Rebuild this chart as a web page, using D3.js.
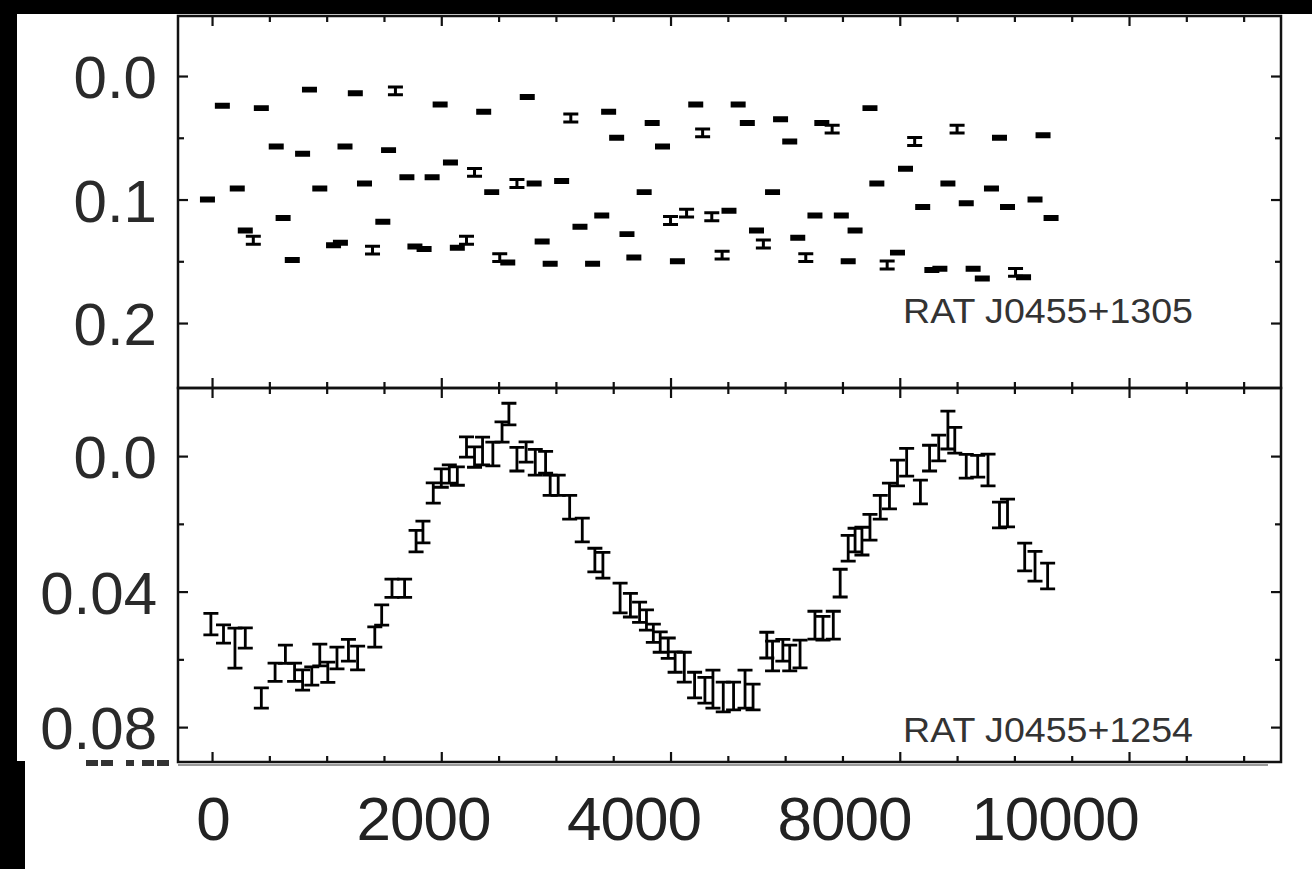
<!DOCTYPE html>
<html lang="en">
<head>
  <meta charset="UTF-8" />
  <title>RAT J0455 light curves</title>
  <style>
    body {
      margin: 0;
      background-color: #000;
    }

    svg {
      display: block;
    }

    .tick-label text {
      font-family: "Liberation Sans", Arial, sans-serif;
      fill: #2a2a2a;
    }

    .ticks line {
      stroke: #111;
      stroke-width: 2.2;
    }

    .frame {
      fill: none;
      stroke: #111;
      stroke-width: 2.5;
    }

    .bar {
      stroke: #000;
      fill: none;
    }

    .star-name {
      font-family: "Liberation Sans", Arial, sans-serif;
      font-size: 35px;
      fill: #333;
    }
  </style>
</head>

<body>
  <svg width="1312" height="869"></svg>

  <script src="https://d3js.org/d3.v7.min.js"></script>
  <script>
    // upper panel: RAT J0455+1305 (time in s, differential mag, error)
    const timeTop = [-40, 90, 220, 290, 360, 430, 560, 620, 700, 790, 850, 940, 1060, 1120, 1160, 1250,
      1330, 1400, 1490, 1540, 1600, 1700, 1770, 1850, 1920, 1990, 2080, 2140, 2220, 2290, 2370, 2440,
      2510, 2580, 2660, 2750, 2810, 2880, 2950, 3050, 3130, 3210, 3320, 3400, 3460, 3530, 3620, 3680,
      3770, 3840, 3930, 4000, 4060, 4140, 4220, 4280, 4360, 4450, 4510, 4590, 4670, 4750, 4810, 4890,
      4960, 5040, 5110, 5180, 5260, 5320, 5410, 5490, 5550, 5610, 5740, 5800, 5890, 5980, 6050, 6130,
      6200, 6280, 6350, 6420, 6500, 6580, 6640, 6720, 6800, 6870, 6940, 7010, 7080, 7180, 7250, 7320];
    const magTop = [0.100, 0.024, 0.091, 0.125, 0.133, 0.026, 0.057, 0.115, 0.149, 0.063, 0.011, 0.091, 0.137, 0.135, 0.057, 0.014,
      0.087, 0.141, 0.118, 0.060, 0.012, 0.082, 0.138, 0.140, 0.082, 0.023, 0.070, 0.139, 0.133, 0.078, 0.029, 0.094,
      0.147, 0.151, 0.087, 0.017, 0.087, 0.134, 0.152, 0.085, 0.034, 0.122, 0.152, 0.113, 0.029, 0.050, 0.128, 0.147,
      0.094, 0.038, 0.057, 0.117, 0.150, 0.111, 0.023, 0.046, 0.114, 0.145, 0.109, 0.023, 0.038, 0.125, 0.136, 0.094,
      0.035, 0.053, 0.131, 0.147, 0.113, 0.038, 0.043, 0.113, 0.150, 0.125, 0.026, 0.087, 0.153, 0.143, 0.075, 0.053,
      0.106, 0.157, 0.156, 0.087, 0.043, 0.103, 0.156, 0.164, 0.091, 0.050, 0.106, 0.159, 0.163, 0.100, 0.048, 0.115];
    const errTop = [0.0012, 0.0012, 0.0012, 0.0012, 0.0032, 0.0012, 0.0012, 0.0012, 0.0012, 0.0012, 0.0012, 0.0012, 0.0012, 0.0012, 0.0012, 0.0012,
      0.0012, 0.0032, 0.0012, 0.0012, 0.0032, 0.0012, 0.0012, 0.0012, 0.0012, 0.0012, 0.0012, 0.0012, 0.0032, 0.0032, 0.0012, 0.0012,
      0.0032, 0.0012, 0.0032, 0.0012, 0.0012, 0.0012, 0.0012, 0.0012, 0.0032, 0.0012, 0.0012, 0.0012, 0.0012, 0.0012, 0.0012, 0.0012,
      0.0012, 0.0012, 0.0012, 0.0032, 0.0012, 0.0032, 0.0012, 0.0032, 0.0032, 0.0032, 0.0012, 0.0012, 0.0012, 0.0012, 0.0032, 0.0012,
      0.0012, 0.0012, 0.0012, 0.0032, 0.0012, 0.0012, 0.0032, 0.0012, 0.0012, 0.0012, 0.0012, 0.0012, 0.0032, 0.0012, 0.0012, 0.0032,
      0.0012, 0.0012, 0.0012, 0.0012, 0.0032, 0.0012, 0.0012, 0.0012, 0.0012, 0.0012, 0.0012, 0.0032, 0.0012, 0.0012, 0.0012, 0.0012];

    // lower panel: RAT J0455+1254
    const timeBot = [-10, 100, 200, 290, 430, 550, 640, 720, 790, 870, 940, 1010, 1090, 1190, 1270, 1420,
      1480, 1570, 1680, 1780, 1840, 1930, 2000, 2070, 2140, 2220, 2290, 2360, 2450, 2530, 2590, 2660,
      2740, 2820, 2910, 2950, 3020, 3120, 3230, 3340, 3410, 3560, 3650, 3730, 3790, 3850, 3910, 3980,
      4040, 4120, 4210, 4300, 4370, 4460, 4550, 4650, 4720, 4840, 4890, 4980, 5040, 5130, 5260, 5330,
      5420, 5480, 5550, 5610, 5670, 5740, 5830, 5910, 5980, 6060, 6180, 6260, 6340, 6420, 6480, 6580,
      6680, 6770, 6870, 6940, 7090, 7180, 7290];
    const magBot = [0.0496, 0.0525, 0.0567, 0.0537, 0.0714, 0.0638, 0.0585, 0.0638, 0.0661, 0.0649, 0.0587, 0.0638, 0.0596, 0.0573, 0.0596, 0.0534,
      0.0469, 0.0390, 0.0390, 0.0251, 0.0224, 0.0109, 0.0065, 0.0053, 0.0059, -0.0027, 0.0003, -0.0015, -0.0006, -0.0071, -0.0124, 0.0009,
      -0.0012, 0.0018, 0.0018, 0.0086, 0.0086, 0.0151, 0.0218, 0.0307, 0.0322, 0.0419, 0.0440, 0.0461, 0.0484, 0.0523, 0.0549, 0.0567,
      0.0608, 0.0623, 0.0676, 0.0691, 0.0688, 0.0711, 0.0708, 0.0688, 0.0711, 0.0558, 0.0590, 0.0573, 0.0596, 0.0584, 0.0499, 0.0508,
      0.0499, 0.0375, 0.0272, 0.0248, 0.0251, 0.0210, 0.0151, 0.0118, 0.0050, 0.0018, 0.0106, 0.0006, -0.0024, -0.0077, -0.0047, 0.0030,
      0.0030, 0.0041, 0.0174, 0.0168, 0.0298, 0.0325, 0.0354];
    const errBot = [0.0032, 0.0027, 0.0059, 0.0030, 0.0030, 0.0027, 0.0027, 0.0027, 0.0030, 0.0027, 0.0032, 0.0030, 0.0032, 0.0032, 0.0035, 0.0030,
      0.0030, 0.0027, 0.0027, 0.0032, 0.0032, 0.0030, 0.0027, 0.0027, 0.0027, 0.0030, 0.0030, 0.0041, 0.0035, 0.0030, 0.0032, 0.0035,
      0.0030, 0.0038, 0.0032, 0.0030, 0.0030, 0.0035, 0.0035, 0.0035, 0.0038, 0.0044, 0.0035, 0.0030, 0.0030, 0.0027, 0.0030, 0.0030,
      0.0030, 0.0044, 0.0038, 0.0038, 0.0056, 0.0044, 0.0041, 0.0056, 0.0038, 0.0038, 0.0044, 0.0032, 0.0038, 0.0041, 0.0041, 0.0035,
      0.0041, 0.0041, 0.0038, 0.0035, 0.0041, 0.0038, 0.0035, 0.0038, 0.0038, 0.0041, 0.0035, 0.0038, 0.0038, 0.0056, 0.0038, 0.0035,
      0.0032, 0.0047, 0.0038, 0.0041, 0.0041, 0.0044, 0.0038];

    const topTicks = [0, 0.1, 0.2];
    const topMinor = [0.05, 0.15];
    const botTicks = [0, 0.04, 0.08];
    const botMinor = [0.02, 0.06];
    const xMajor = [0, 2000, 4000, 6000, 8000];
    const xMinor = [500, 1000, 1500, 2500, 3000, 3500, 4500, 5000, 5500, 6500, 7000, 7500, 8500, 9000];
    const xLabels = ["0", "2000", "4000", "8000", "10000"];
    const names = ["RAT J0455+1305", "RAT J0455+1254"];

    const svg = d3.select("svg");

    // black page with the white cut-outs of the scan
    svg.append("rect").attr("width", 1312).attr("height", 869).attr("fill", "#000");
    svg.append("rect").attr("x", 17).attr("y", 14).attr("width", 1295).attr("height", 747).attr("fill", "#fff");
    svg.append("rect").attr("x", 25).attr("y", 760).attr("width", 1287).attr("height", 109).attr("fill", "#fff");

    const left = 178, right = 1281;
    const panels = [
      { top: 16, bottom: 388, y: d3.scaleLinear().domain([-0.0486, 0.2526]).range([16, 388]),
        major: topTicks, minor: topMinor, fmt: d3.format(".1f"), sw: 3,
        t: timeTop, m: magTop, e: errTop, name: names[0] },
      { top: 388, bottom: 762, y: d3.scaleLinear().domain([-0.0201, 0.0903]).range([388, 762]),
        major: botTicks, minor: botMinor, fmt: d => d === 0 ? "0.0" : d3.format(".2f")(d), sw: 2.8,
        t: timeBot, m: magBot, e: errBot, name: names[1] }
    ];

    const x = d3.scaleLinear().domain([-297, 9326]).range([left, right]);

    panels.forEach(p => {
      const g = svg.append("g");

      // x ticks on both edges, pointing inwards
      [[xMajor, 10], [xMinor, 6]].forEach(([vals, len]) => {
        g.append("g").attr("class", "ticks")
          .attr("transform", `translate(0,${p.top})`)
          .call(d3.axisBottom(x).tickValues(vals).tickSize(len).tickFormat(""));
        g.append("g").attr("class", "ticks")
          .attr("transform", `translate(0,${p.bottom})`)
          .call(d3.axisTop(x).tickValues(vals).tickSize(len).tickFormat(""));
      });

      // y ticks on both edges
      [[p.major, 10], [p.minor, 6]].forEach(([vals, len]) => {
        g.append("g").attr("class", "ticks")
          .attr("transform", `translate(${left},0)`)
          .call(d3.axisRight(p.y).tickValues(vals).tickSize(len).tickFormat(""));
        g.append("g").attr("class", "ticks")
          .attr("transform", `translate(${right},0)`)
          .call(d3.axisLeft(p.y).tickValues(vals).tickSize(len).tickFormat(""));
      });
      g.selectAll(".ticks path.domain").remove();

      // tick labels
      const lab = g.append("g").attr("class", "tick-label")
        .attr("transform", `translate(${left},0)`)
        .call(d3.axisLeft(p.y).tickValues(p.major).tickSize(0).tickPadding(21).tickFormat(p.fmt));
      lab.select("path.domain").remove();
      lab.selectAll("text").attr("font-size", 60).attr("dy", "0.36em");

      // error bars
      const pts = p.t.map((t, i) => ({ t: t, m: p.m[i], e: p.e[i] }));
      const cap = 7.5;
      g.append("g").selectAll("path").data(pts).enter().append("path")
        .attr("class", "bar")
        .attr("stroke-width", p.sw)
        .attr("d", d => {
          const cx = x(d.t), y1 = p.y(d.m - d.e), y2 = p.y(d.m + d.e);
          return `M${cx - cap},${y1}H${cx + cap}M${cx},${y1}V${y2}M${cx - cap},${y2}H${cx + cap}`;
        });

      g.append("text").attr("class", "star-name")
        .attr("x", 903).attr("y", p.bottom - (p.top === 16 ? 65 : 20))
        .attr("textLength", 290).attr("lengthAdjust", "spacingAndGlyphs")
        .text(p.name);

      g.append("rect").attr("class", "frame")
        .attr("x", left).attr("y", p.top)
        .attr("width", right - left).attr("height", p.bottom - p.top);
    });

    // soft shadow under the lower frame
    svg.append("line").attr("x1", left).attr("x2", 1268).attr("y1", 765).attr("y2", 765)
      .attr("stroke", "#9a9a9a").attr("stroke-width", 2);

    // scraps of a cut-off label peeking under the lower panel
    const scraps = [[86, 12], [101, 12], [126, 8], [142, 12], [157, 12]];
    svg.append("g").selectAll("rect").data(scraps).enter().append("rect")
      .attr("x", d => d[0]).attr("y", 760).attr("width", d => d[1]).attr("height", 6)
      .attr("fill", "#333");

    // x labels pasted beneath
    const xl = d3.scalePoint().domain(xLabels).range([213, 1055]);
    svg.append("g").selectAll("text").data(xLabels).enter().append("text")
      .attr("x", d => xl(d)).attr("y", 840)
      .attr("text-anchor", "middle")
      .attr("font-family", "Liberation Sans, Arial, sans-serif")
      .attr("font-size", 62).attr("letter-spacing", -1).attr("fill", "#222")
      .text(d => d);
  </script>
</body>
</html>
